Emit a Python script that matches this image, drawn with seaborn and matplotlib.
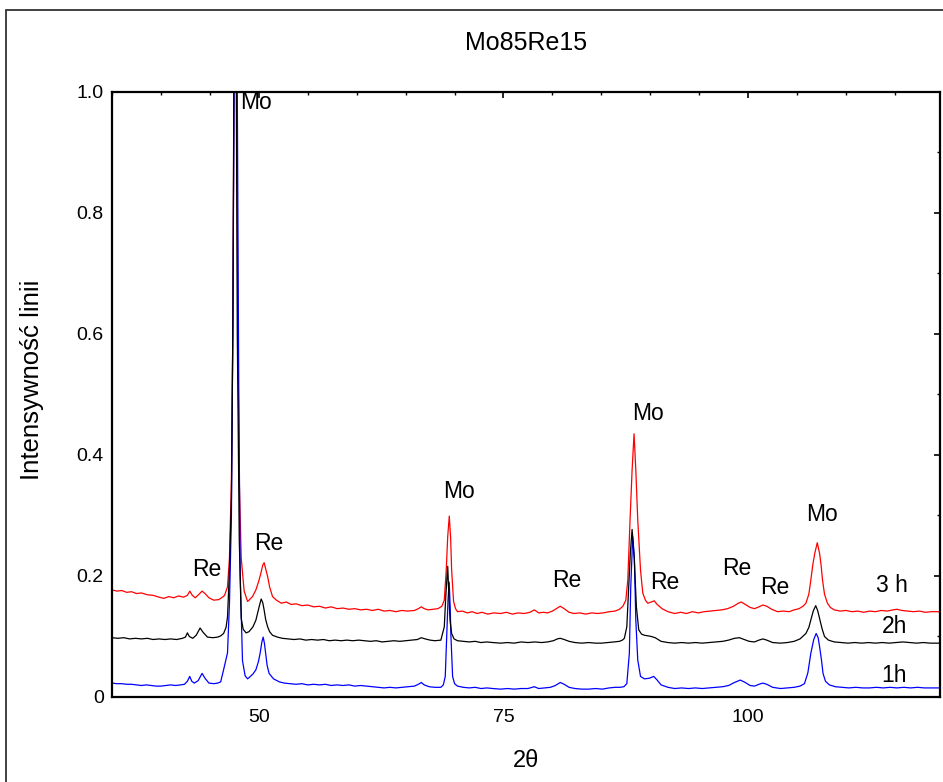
import pandas as pd
import matplotlib.pyplot as plt
import seaborn as sns
from matplotlib.patches import Rectangle
from matplotlib.ticker import MultipleLocator, FuncFormatter

sns.set_theme(style="white")
plt.rcParams['font.family'] = ['Liberation Sans', 'DejaVu Sans']
plt.rcParams['text.color'] = 'black'
plt.rcParams['axes.labelcolor'] = 'black'

# (2theta, intensity), one list per milling time
pattern_3h = [
    (35.0, 0.177), (35.5, 0.175), (36.0, 0.176), (36.5, 0.173), (37.0, 0.174), (37.5, 0.171),
    (38.0, 0.172), (38.6, 0.169), (39.2, 0.168), (39.8, 0.165), (40.3, 0.163), (40.8, 0.166),
    (41.3, 0.164), (41.8, 0.167), (42.3, 0.165), (42.7, 0.168), (42.95, 0.175), (43.2, 0.168),
    (43.5, 0.164), (43.9, 0.170), (44.2, 0.175), (44.5, 0.171), (44.9, 0.164), (45.4, 0.160),
    (45.9, 0.161), (46.2, 0.164), (46.5, 0.168), (46.8, 0.182), (47.0, 0.23), (47.2, 0.36),
    (47.35, 0.62), (47.45, 1.0), (47.6, 1.5), (47.75, 1.0), (47.85, 0.62), (48.0, 0.36),
    (48.2, 0.23), (48.5, 0.175), (48.85, 0.158), (49.0, 0.160), (49.35, 0.166), (49.7, 0.177),
    (50.0, 0.192), (50.2, 0.204), (50.4, 0.218), (50.54, 0.222), (50.7, 0.212), (50.9, 0.199),
    (51.1, 0.182), (51.4, 0.166), (51.8, 0.160), (52.3, 0.155), (52.8, 0.157), (53.3, 0.153),
    (53.8, 0.154), (54.4, 0.151), (55.0, 0.152), (55.6, 0.149), (56.2, 0.150), (56.8, 0.147),
    (57.4, 0.149), (58.0, 0.146), (58.6, 0.147), (59.2, 0.145), (59.8, 0.146), (60.4, 0.144),
    (61.0, 0.145), (61.6, 0.143), (62.2, 0.145), (62.8, 0.142), (63.4, 0.143), (64.0, 0.141),
    (64.6, 0.143), (65.2, 0.142), (65.9, 0.143), (66.3, 0.146), (66.6, 0.149), (66.9, 0.146),
    (67.3, 0.144), (67.8, 0.145), (68.3, 0.146), (68.7, 0.150), (68.95, 0.160), (69.15, 0.21),
    (69.3, 0.265), (69.46, 0.299), (69.6, 0.262), (69.7, 0.21), (69.9, 0.158), (70.1, 0.146),
    (70.3, 0.141), (70.8, 0.142), (71.3, 0.139), (71.8, 0.141), (72.3, 0.138), (72.8, 0.140),
    (73.4, 0.137), (74.0, 0.139), (74.7, 0.138), (75.3, 0.140), (75.9, 0.137), (76.5, 0.139),
    (77.1, 0.138), (77.7, 0.140), (78.15, 0.144), (78.6, 0.139), (79.1, 0.140), (79.5, 0.139),
    (80.0, 0.142), (80.4, 0.146), (80.8, 0.150), (81.2, 0.146), (81.7, 0.140), (82.2, 0.138),
    (82.8, 0.139), (83.4, 0.137), (84.0, 0.139), (84.6, 0.138), (85.2, 0.139), (85.8, 0.141),
    (86.4, 0.142), (86.85, 0.145), (87.2, 0.150), (87.5, 0.160), (87.7, 0.193), (87.93, 0.292),
    (88.14, 0.375), (88.34, 0.435), (88.52, 0.375), (88.72, 0.292), (89.0, 0.21), (89.23, 0.172),
    (89.5, 0.160), (89.74, 0.155), (90.1, 0.157), (90.4, 0.159), (90.7, 0.153), (91.2, 0.146),
    (91.8, 0.141), (92.5, 0.138), (93.1, 0.140), (93.7, 0.138), (94.3, 0.141), (94.9, 0.139),
    (95.5, 0.141), (96.1, 0.142), (96.7, 0.143), (97.3, 0.144), (97.9, 0.146), (98.5, 0.150),
    (99.0, 0.155), (99.3, 0.157), (99.7, 0.153), (100.2, 0.148), (100.65, 0.146), (101.1, 0.149),
    (101.5, 0.152), (101.9, 0.150), (102.4, 0.145), (103.0, 0.141), (103.6, 0.142), (104.2, 0.141),
    (104.7, 0.144), (105.2, 0.146), (105.6, 0.150), (105.9, 0.155), (106.2, 0.170), (106.4, 0.193),
    (106.6, 0.218), (106.8, 0.237), (107.06, 0.255), (107.3, 0.237), (107.45, 0.218), (107.6, 0.193),
    (107.8, 0.170), (108.1, 0.155), (108.4, 0.148), (108.8, 0.144), (109.4, 0.142), (110.0, 0.143),
    (110.6, 0.141), (111.2, 0.142), (111.8, 0.140), (112.4, 0.142), (113.0, 0.141), (113.6, 0.143),
    (114.2, 0.142), (114.8, 0.144), (115.2, 0.145), (115.7, 0.143), (116.3, 0.142), (116.9, 0.141),
    (117.5, 0.142), (118.1, 0.140), (118.7, 0.141), (119.4, 0.141), (119.6, 0.140),
]

pattern_2h = [
    (35.0, 0.098), (35.6, 0.097), (36.2, 0.098), (36.8, 0.096), (37.4, 0.097), (38.0, 0.096),
    (38.6, 0.097), (39.2, 0.095), (39.8, 0.096), (40.4, 0.095), (41.0, 0.096), (41.6, 0.095),
    (42.2, 0.097), (42.5, 0.099), (42.7, 0.106), (42.9, 0.100), (43.25, 0.097), (43.6, 0.102),
    (44.0, 0.114), (44.3, 0.107), (44.75, 0.099), (45.3, 0.098), (45.8, 0.099), (46.1, 0.101),
    (46.4, 0.105), (46.65, 0.115), (46.8, 0.132), (47.0, 0.21), (47.2, 0.33), (47.35, 0.62),
    (47.45, 1.0), (47.55, 1.5), (47.7, 1.0), (47.8, 0.6), (48.0, 0.26), (48.2, 0.13),
    (48.4, 0.112), (48.7, 0.106), (49.0, 0.108), (49.4, 0.116), (49.7, 0.127), (50.03, 0.149),
    (50.24, 0.162), (50.4, 0.156), (50.54, 0.144), (50.7, 0.128), (50.9, 0.116), (51.1, 0.108),
    (51.4, 0.102), (51.9, 0.099), (52.4, 0.097), (53.0, 0.096), (53.6, 0.095), (54.2, 0.096),
    (54.8, 0.094), (55.4, 0.095), (56.0, 0.094), (56.6, 0.095), (57.2, 0.093), (57.8, 0.094),
    (58.4, 0.093), (59.0, 0.094), (59.6, 0.093), (60.2, 0.094), (60.8, 0.093), (61.4, 0.092),
    (62.0, 0.093), (62.6, 0.091), (63.2, 0.092), (63.8, 0.093), (64.4, 0.092), (65.0, 0.093),
    (65.6, 0.094), (66.2, 0.095), (66.6, 0.098), (67.0, 0.096), (67.5, 0.094), (68.0, 0.093),
    (68.6, 0.094), (68.95, 0.116), (69.1, 0.166), (69.3, 0.216), (69.45, 0.155), (69.55, 0.125),
    (69.7, 0.105), (69.95, 0.096), (70.3, 0.093), (70.9, 0.092), (71.5, 0.091), (72.1, 0.092),
    (72.7, 0.090), (73.3, 0.091), (73.9, 0.090), (74.7, 0.089), (75.4, 0.090), (76.1, 0.089),
    (76.8, 0.091), (77.5, 0.090), (78.2, 0.091), (78.9, 0.090), (79.5, 0.091), (80.1, 0.093),
    (80.5, 0.096), (80.8, 0.097), (81.2, 0.095), (81.7, 0.092), (82.3, 0.090), (83.0, 0.089),
    (83.7, 0.090), (84.4, 0.089), (85.0, 0.089), (85.7, 0.090), (86.3, 0.091), (86.85, 0.092),
    (87.15, 0.094), (87.35, 0.097), (87.6, 0.116), (87.8, 0.182), (87.96, 0.238), (88.14, 0.277),
    (88.25, 0.255), (88.37, 0.226), (88.58, 0.149), (88.82, 0.111), (89.1, 0.104), (89.4, 0.102),
    (89.8, 0.101), (90.1, 0.100), (90.5, 0.098), (91.1, 0.092), (91.8, 0.090), (92.5, 0.089),
    (93.2, 0.090), (93.9, 0.089), (94.6, 0.090), (95.3, 0.089), (96.0, 0.090), (96.7, 0.091),
    (97.4, 0.092), (98.0, 0.094), (98.6, 0.097), (99.1, 0.098), (99.6, 0.095), (100.1, 0.092),
    (100.65, 0.091), (101.1, 0.094), (101.5, 0.096), (101.9, 0.094), (102.5, 0.090), (103.3, 0.089),
    (104.0, 0.090), (104.7, 0.092), (105.3, 0.096), (105.9, 0.105), (106.2, 0.115), (106.4, 0.127),
    (106.65, 0.142), (106.9, 0.151), (107.1, 0.143), (107.3, 0.130), (107.55, 0.113), (107.8, 0.100),
    (108.2, 0.094), (108.8, 0.091), (109.5, 0.090), (110.2, 0.089), (110.9, 0.090), (111.6, 0.089),
    (112.3, 0.090), (113.0, 0.089), (113.7, 0.090), (114.4, 0.089), (115.1, 0.090), (115.8, 0.091),
    (116.5, 0.090), (117.2, 0.089), (117.9, 0.090), (118.6, 0.089), (119.6, 0.089),
]

pattern_1h = [
    (35.0, 0.023), (35.5, 0.022), (36.0, 0.022), (36.5, 0.021), (37.0, 0.021), (37.5, 0.020),
    (38.0, 0.019), (38.5, 0.020), (39.0, 0.019), (39.5, 0.018), (40.0, 0.018), (40.5, 0.019),
    (41.0, 0.020), (41.5, 0.019), (42.0, 0.020), (42.4, 0.021), (42.7, 0.026), (42.94, 0.034),
    (43.15, 0.026), (43.4, 0.023), (43.8, 0.027), (44.2, 0.039), (44.5, 0.031), (44.9, 0.023),
    (45.4, 0.022), (45.8, 0.023), (46.1, 0.025), (46.4, 0.045), (46.8, 0.073), (47.0, 0.155),
    (47.2, 0.30), (47.35, 0.62), (47.5, 1.1), (47.65, 1.5), (47.8, 1.0), (47.95, 0.5),
    (48.1, 0.2), (48.33, 0.06), (48.6, 0.035), (48.85, 0.030), (49.0, 0.032), (49.4, 0.038),
    (49.7, 0.045), (49.95, 0.058), (50.13, 0.072), (50.3, 0.090), (50.44, 0.099), (50.57, 0.089),
    (50.7, 0.072), (50.85, 0.052), (51.05, 0.039), (51.5, 0.030), (52.1, 0.025), (52.6, 0.023),
    (53.2, 0.022), (53.8, 0.021), (54.4, 0.022), (55.0, 0.020), (55.6, 0.021), (56.2, 0.020),
    (56.8, 0.021), (57.4, 0.019), (58.0, 0.020), (58.6, 0.019), (59.2, 0.020), (59.8, 0.018),
    (60.4, 0.019), (61.0, 0.018), (61.6, 0.017), (62.2, 0.016), (62.8, 0.015), (63.4, 0.016),
    (64.0, 0.015), (64.6, 0.016), (65.2, 0.017), (65.9, 0.018), (66.3, 0.021), (66.6, 0.024),
    (66.9, 0.020), (67.4, 0.017), (68.0, 0.016), (68.6, 0.016), (68.85, 0.020), (69.05, 0.034),
    (69.2, 0.10), (69.33, 0.16), (69.45, 0.19), (69.55, 0.15), (69.63, 0.10), (69.8, 0.034),
    (70.0, 0.022), (70.3, 0.018), (70.9, 0.016), (71.5, 0.015), (72.1, 0.016), (72.7, 0.014),
    (73.3, 0.015), (73.9, 0.014), (74.7, 0.013), (75.4, 0.014), (76.1, 0.013), (76.8, 0.014),
    (77.5, 0.014), (78.15, 0.017), (78.6, 0.014), (79.2, 0.015), (79.8, 0.016), (80.3, 0.019),
    (80.8, 0.024), (81.2, 0.021), (81.7, 0.016), (82.3, 0.014), (83.0, 0.013), (83.7, 0.013),
    (84.4, 0.014), (85.1, 0.013), (85.8, 0.015), (86.4, 0.016), (86.9, 0.016), (87.3, 0.017),
    (87.6, 0.022), (87.86, 0.072), (88.0, 0.18), (88.2, 0.265), (88.37, 0.23), (88.52, 0.127),
    (88.72, 0.061), (89.0, 0.034), (89.4, 0.030), (89.9, 0.031), (90.35, 0.034), (90.7, 0.028),
    (91.1, 0.020), (91.8, 0.016), (92.5, 0.014), (93.2, 0.015), (93.9, 0.014), (94.6, 0.015),
    (95.3, 0.014), (96.0, 0.015), (96.7, 0.016), (97.4, 0.017), (98.0, 0.019), (98.6, 0.024),
    (99.2, 0.028), (99.7, 0.024), (100.2, 0.019), (100.65, 0.018), (101.1, 0.021), (101.5, 0.023),
    (101.9, 0.021), (102.5, 0.016), (103.3, 0.014), (104.0, 0.015), (104.7, 0.016), (105.3, 0.018),
    (105.75, 0.022), (106.1, 0.040), (106.4, 0.072), (106.7, 0.095), (106.95, 0.105), (107.15, 0.098),
    (107.3, 0.083), (107.5, 0.060), (107.65, 0.039), (107.9, 0.026), (108.3, 0.020), (108.9, 0.017),
    (109.6, 0.016), (110.3, 0.015), (111.0, 0.016), (111.7, 0.015), (112.4, 0.015), (113.1, 0.016),
    (113.8, 0.015), (114.5, 0.016), (115.2, 0.015), (115.9, 0.016), (116.6, 0.015), (117.3, 0.016),
    (118.0, 0.015), (118.7, 0.015), (119.6, 0.015),
]

# peak labels: (2theta, intensity, text)
peak_labels = [
    (49.75, 0.983, 'Mo'), (44.7, 0.210, 'Re'), (51.0, 0.254, 'Re'), (70.5, 0.339, 'Mo'),
    (81.5, 0.192, 'Re'), (89.8, 0.468, 'Mo'), (91.5, 0.190, 'Re'), (98.8, 0.212, 'Re'),
    (102.7, 0.181, 'Re'), (107.5, 0.302, 'Mo'),
]
time_labels = [(114.7, 0.185, '3 h'), (114.95, 0.116, '2h'), (114.95, 0.035, '1h')]


def to_frame(points, name):
    df = pd.DataFrame(points, columns=['2theta', 'I'])
    df['czas'] = name
    return df


data = pd.concat([to_frame(pattern_3h, '3 h'), to_frame(pattern_2h, '2h'),
                  to_frame(pattern_1h, '1h')], ignore_index=True)

fig = plt.figure(figsize=(9.43, 7.82), dpi=100)
fig.patches.append(Rectangle((0.006, -0.05), 1.2, 1.037, transform=fig.transFigure,
                             fill=False, edgecolor='#333333', linewidth=1.3))
ax = fig.add_axes([0.1188, 0.1087, 0.8780, 0.7737])

for name, color in [('3 h', '#ff0000'), ('1h', '#0000ff'), ('2h', '#000000')]:
    sns.lineplot(data=data[data['czas'] == name], x='2theta', y='I', color=color,
                 linewidth=0.9, sort=False, estimator=None, ax=ax)

ax.set_xlim(35, 119.6)
ax.set_ylim(0, 1.0)
ax.xaxis.set_major_locator(MultipleLocator(25))
ax.xaxis.set_minor_locator(MultipleLocator(5))
ax.yaxis.set_major_locator(MultipleLocator(0.2))
ax.yaxis.set_minor_locator(MultipleLocator(0.1))
ax.yaxis.set_major_formatter(FuncFormatter(lambda v, p: '0' if abs(v) < 1e-9 else f'{v:.1f}'))
ax.tick_params(which='both', direction='in', top=True, right=True, colors='black',
               labelsize=14)
ax.tick_params(which='major', length=4, width=1.2)
ax.tick_params(which='minor', length=2.5, width=1)
ax.tick_params(axis='x', pad=9)
ax.tick_params(axis='y', pad=6)
for s in ax.spines.values():
    s.set_color('black')
    s.set_linewidth(1.6)

ax.set_xlabel('2θ', fontsize=17)
ax.set_ylabel('Intensywność linii', fontsize=18.5)
ax.xaxis.set_label_coords(0.5, -0.088)
ax.yaxis.set_label_coords(-0.082, 0.524)
fig.text(526 / 943, 1 - 42.5 / 782, 'Mo85Re15', ha='center', va='center', fontsize=18)

for x, y, s in peak_labels + time_labels:
    ax.text(x, y, s, ha='center', va='center', fontsize=16.5, color='black')

fig.savefig('out.png', dpi=100)
